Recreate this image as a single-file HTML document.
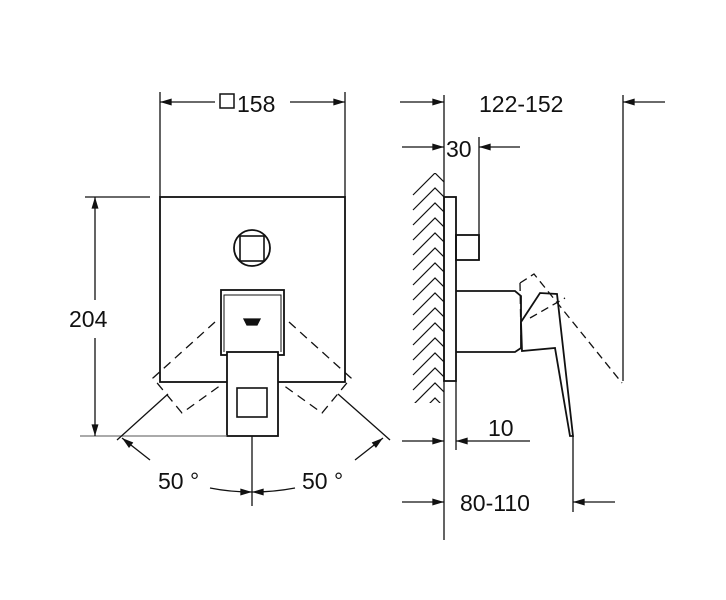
<!DOCTYPE html>
<html><head><style>
html,body{margin:0;padding:0;background:#fff;}
svg{display:block;}
text{font-family:"Liberation Sans",sans-serif;fill:#111;}
</style></head><body>
<svg width="726" height="600" viewBox="0 0 726 600" xmlns="http://www.w3.org/2000/svg">
<defs>
<marker id="a" viewBox="0 0 10 6" refX="10" refY="3" markerWidth="16" markerHeight="7" markerUnits="userSpaceOnUse" orient="auto"><path d="M0,0 L10,3 L0,6 Z" fill="#111"/></marker>
<clipPath id="c"><rect x="412" y="173" width="32" height="230"/></clipPath>
</defs>
<g stroke="#111" stroke-width="1.3" fill="none">
<!-- front view -->
<line x1="160" y1="92" x2="160" y2="197"/>
<line x1="345" y1="92" x2="345" y2="197"/>
<line x1="215" y1="102" x2="160" y2="102" marker-end="url(#a)"/>
<line x1="290" y1="102" x2="345" y2="102" marker-end="url(#a)"/>
<rect x="160" y="197" width="185" height="185" stroke-width="1.8"/>
<circle cx="252" cy="248" r="18" stroke-width="1.8"/>
<rect x="240" y="236" width="24" height="25" stroke-width="1.6"/>
<rect x="221" y="290" width="63" height="65" stroke-width="1.8"/>
<path d="M224,352 V295 H281 V352" stroke-width="1"/>
<rect x="227" y="352" width="51" height="84" stroke-width="1.8" fill="#fff"/>
<rect x="237" y="388" width="30" height="29" stroke-width="1.6"/>
<path d="M244,319 h16 l-3,6 h-10 z" fill="#111"/>
<g stroke-dasharray="9,6">
<path d="M215,322 L153,378 L182,413 L221,385"/>
<path d="M289,322 L351,378 L322,413 L283,385"/>
</g>
<line x1="85" y1="197" x2="150" y2="197"/>
<line x1="80" y1="436" x2="227" y2="436" stroke="#777"/>
<line x1="95" y1="300" x2="95" y2="197" marker-end="url(#a)"/>
<line x1="95" y1="338" x2="95" y2="436" marker-end="url(#a)"/>
<line x1="117" y1="440" x2="168" y2="394"/>
<line x1="390" y1="440" x2="338" y2="394"/>
<line x1="150" y1="460" x2="122" y2="438" marker-end="url(#a)"/>
<line x1="355" y1="460" x2="383" y2="438" marker-end="url(#a)"/>
<line x1="252" y1="436" x2="252" y2="506"/>
<path d="M210,488 Q230,492 252,492" marker-end="url(#a)"/>
<path d="M295,488 Q274,492 252,492" marker-end="url(#a)"/>
<!-- side view -->
<g clip-path="url(#c)" stroke-width="1.2">
<path d="M413,195 L435,173 L444,182 M413,210 L435,188 L444,197 M413,225 L435,203 L444,212 M413,240 L435,218 L444,227 M413,255 L435,233 L444,242 M413,270 L435,248 L444,257 M413,285 L435,263 L444,272 M413,300 L435,278 L444,287 M413,315 L435,293 L444,302 M413,330 L435,308 L444,317 M413,345 L435,323 L444,332 M413,360 L435,338 L444,347 M413,375 L435,353 L444,362 M413,390 L435,368 L444,377 M413,405 L435,383 L444,392 M413,420 L435,398 L444,407"/>
</g>
<line x1="444" y1="95" x2="444" y2="540"/>
<line x1="623" y1="95" x2="623" y2="381"/>
<line x1="400" y1="102" x2="444" y2="102" marker-end="url(#a)"/>
<line x1="665" y1="102" x2="623" y2="102" marker-end="url(#a)"/>
<line x1="479" y1="137" x2="479" y2="260"/>
<line x1="402" y1="147" x2="444" y2="147" marker-end="url(#a)"/>
<line x1="520" y1="147" x2="479" y2="147" marker-end="url(#a)"/>
<rect x="444" y="197" width="12" height="184" stroke-width="1.8"/>
<rect x="456" y="235" width="23" height="25" stroke-width="1.8"/>
<path d="M456,291 H515 L521,296 V348 L515,352 H456" stroke-width="1.8"/>
<path d="M521,322 L540,293 L557,294 L573,436 L570,436 L555,348 L522,351 Z" stroke-width="1.8" fill="#fff"/>
<path d="M520,283 L534,274 L622,383 M520,283 L521,340 M530,318 L565,298" stroke-dasharray="8,5"/>
<line x1="456" y1="381" x2="456" y2="450"/>
<line x1="402" y1="441" x2="444" y2="441" marker-end="url(#a)"/>
<line x1="530" y1="441" x2="456" y2="441" marker-end="url(#a)"/>
<line x1="573" y1="436" x2="573" y2="512"/>
<line x1="402" y1="502" x2="444" y2="502" marker-end="url(#a)"/>
<line x1="615" y1="502" x2="573" y2="502" marker-end="url(#a)"/>
</g>
<g font-size="23">
<rect x="220" y="94" width="14" height="14" fill="none" stroke="#111" stroke-width="1.5"/>
<text x="237" y="112">158</text>
<text x="69" y="327">204</text>
<text x="158" y="489">50 °</text>
<text x="302" y="489">50 °</text>
<text x="479" y="112">122-152</text>
<text x="446" y="157">30</text>
<text x="488" y="436">10</text>
<text x="460" y="511">80-110</text>
</g>
</svg>
</body></html>
